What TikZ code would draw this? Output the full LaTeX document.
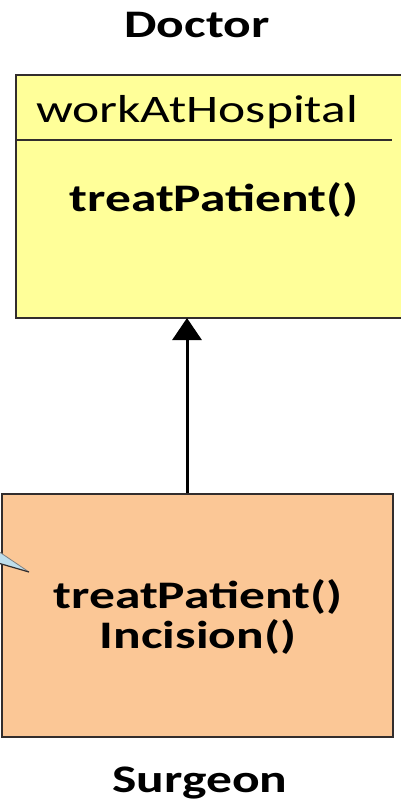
\documentclass[tikz,border=0pt]{standalone}
\usepackage{fontspec}
\setmainfont{Carlito}
\usetikzlibrary{arrows.meta}
\definecolor{classyellow}{RGB}{255,255,153}
\definecolor{classpeach}{RGB}{251,199,150}
\definecolor{edgegray}{RGB}{50,45,45}
\definecolor{calloutblue}{RGB}{190,222,236}
\newcommand{\hstretch}[1]{\scalebox{1.32}[1]{#1}}
\tikzset{
  classbox/.style={draw=edgegray, line width=1.6pt, rectangle, inner sep=0pt, anchor=north west},
  label/.style={inner sep=0pt, anchor=base, text=black, font=\fontsize{39}{42}\selectfont},
  boldlabel/.style={label, font=\fontsize{39}{42}\selectfont\bfseries},
  inherit/.style={line width=3pt, -{Triangle[length=22pt,width=29pt]}}
}
\begin{document}
\begin{tikzpicture}[x=1pt,y=-1pt]
  \useasboundingbox (0,0) rectangle (401,804);

  % Doctor class
  \node[boldlabel] (doctorname) at (197,37) {\hstretch{Doctor}};
  \node[classbox, fill=classyellow, minimum width=400pt, minimum height=243pt] (doctor) at (15,74) {};
  \coordinate (divl) at (15,140);
  \coordinate (divr) at (392,140);
  \draw[edgegray, line width=1.4pt] (divl) -- (divr);
  \node[label] (attr) at (197,122) {\hstretch{workAtHospital}};
  \node[boldlabel] (docop) at (214,211) {\hstretch{treatPatient()}};

  % Surgeon class
  \node[classbox, fill=classpeach, minimum width=391pt, minimum height=243pt] (surgeon) at (1,493) {};
  \node[boldlabel] (surgop1) at (198,608) {\hstretch{treatPatient()}};
  \node[boldlabel] (surgop2) at (198,648) {\hstretch{Incision()}};
  \node[boldlabel] (surgname) at (200,792) {\hstretch{Surgeon}};

  % callout pointer entering from the left
  \coordinate (cpa) at (-2,551);
  \coordinate (cpt) at (29,572);
  \coordinate (cpb) at (-2,563);
  \fill[calloutblue] (cpa) -- (cpt) -- (cpb) -- cycle;
  \draw[gray, line width=0.8pt] (cpa) -- (cpt);
  \draw[edgegray, line width=1.2pt] (cpt) -- (cpb);

  % generalisation arrow
  \coordinate (arrfoot) at (187,493);
  \coordinate (arrtip) at (187,318);
  \draw[inherit] (arrfoot) -- (arrtip);
\end{tikzpicture}
\end{document}
